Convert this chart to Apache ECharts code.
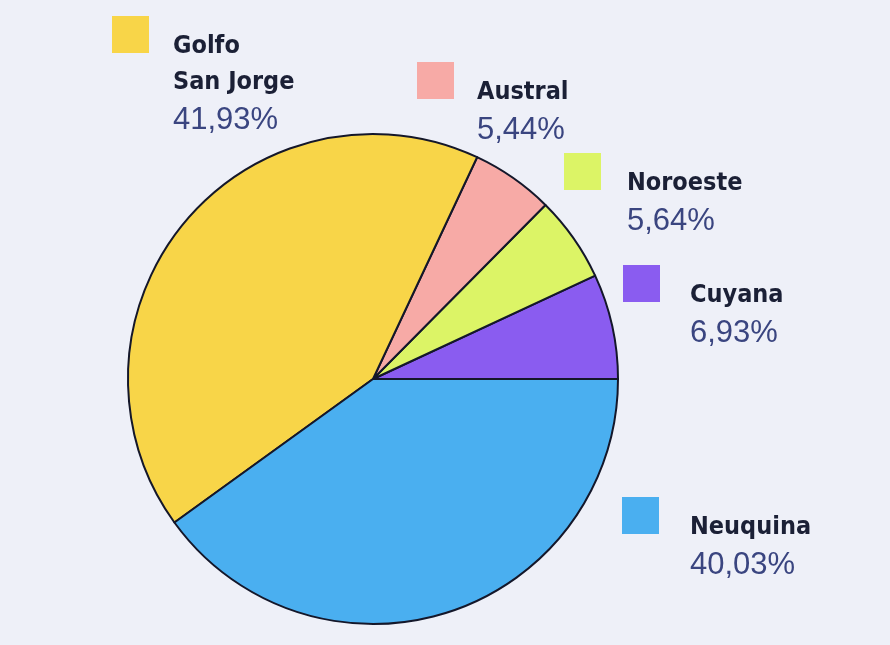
<!DOCTYPE html>
<html><head><meta charset="utf-8">
<script src="https://cdn.jsdelivr.net/npm/echarts@6/dist/echarts.min.js"></script>
<style>html,body{margin:0;padding:0;background:#eef0f8;}#c{width:890px;height:645px;}</style>
</head><body><div id="c"></div>
<script>
const regions = ['Cuyana', 'Noroeste', 'Austral', 'Golfo\nSan Jorge', 'Neuquina'];
const shares = [6.93, 5.64, 5.44, 41.93, 40.03];
const shareLabels = ['6,93%', '5,64%', '5,44%', '41,93%', '40,03%'];
const colors = ['#8a5cf0', '#dcf466', '#f7aaa6', '#f8d548', '#4aaff0'];
// legend anchor points (square top-left)
const legendPos = [[623, 265], [564, 153], [417, 62], [112, 16], [622, 497]];
const textOffset = [[67, 0], [63, 0], [60, 0], [61, 0], [68, 0]];

const graphic = [];
regions.forEach((r, i) => {
  const [x, y] = legendPos[i];
  graphic.push({ type: 'rect', shape: { x: x, y: y, width: 37, height: 37 }, style: { fill: colors[i] } });
  const lines = r.split('\n');
  const tx = x + textOffset[i][0];
  let ty = y + 18;
  lines.forEach(l => {
    graphic.push({ type: 'text', x: tx, y: ty, style: { text: l, font: 'bold 25px "Liberation Sans Narrow", "DejaVu Sans Condensed", sans-serif', fill: '#1b2036' } });
    ty += 36;
  });
  graphic.push({ type: 'text', x: tx, y: ty - 1, style: { text: shareLabels[i], font: '31px "Liberation Sans", Arial, sans-serif', fill: '#3a4580' } });
});

const chart = echarts.init(document.getElementById('c'));
chart.setOption({
  backgroundColor: '#eef0f8',
  animation: false,
  graphic: graphic,
  series: [{
    type: 'pie',
    center: [373, 379],
    radius: 245,
    startAngle: 0,
    clockwise: false,
    label: { show: false },
    labelLine: { show: false },
    itemStyle: { borderColor: '#14172a', borderWidth: 2 },
    data: regions.map((r, i) => ({ name: r, value: shares[i], itemStyle: { color: colors[i] } }))
  }]
});
</script></body></html>
